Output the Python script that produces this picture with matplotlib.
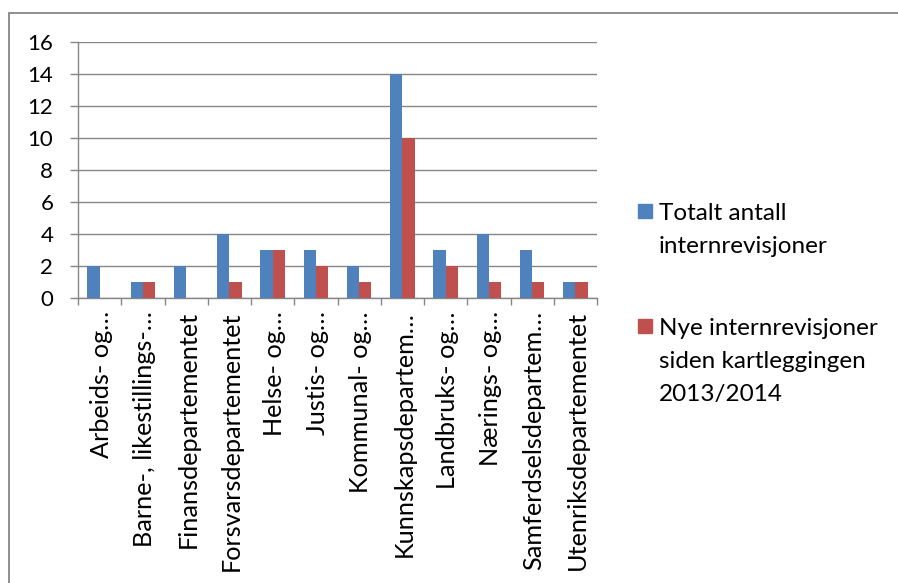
import matplotlib
matplotlib.use("Agg")
import matplotlib.pyplot as plt
from matplotlib.patches import Rectangle
import numpy as np

categories = ["Arbeids- og…", "Barne-, likestillings-…", "Finansdepartementet",
              "Forsvarsdepartementet", "Helse- og…", "Justis- og…", "Kommunal- og…",
              "Kunnskapsdepartem…", "Landbruks- og…", "Nærings- og…",
              "Samferdselsdepartem…", "Utenriksdepartementet"]
totalt = [2, 1, 2, 4, 3, 3, 2, 14, 3, 4, 3, 1]
nye = [0, 1, 0, 1, 3, 2, 1, 10, 2, 1, 1, 1]
series_names = ["Totalt antall\ninternrevisjoner",
                "Nye internrevisjoner\nsiden kartleggingen\n2013/2014"]
series_colors = ['#4F81BD', '#C0504D']
yticks = [0, 2, 4, 6, 8, 10, 12, 14, 16]

plt.rcParams['font.family'] = ['Lato', 'DejaVu Sans']
W, H = 898, 583
fig = plt.figure(figsize=(W/100, H/100), dpi=100)

# outer chart border (only left and top edges visible)
fig.patches.append(Rectangle((8.5/W, -0.5), 2, 1 - 12.5/H + 0.5, transform=fig.transFigure,
                             fill=False, edgecolor='#868686', linewidth=1.3))

ax = fig.add_axes([78/W, 1 - 298/H, (597-78)/W, (298-42)/H])
x = np.arange(len(categories))
w = 1/3.5
gridc = '#868686'
ax.bar(x - w/2, totalt, width=w, color=series_colors[0], zorder=3)
ax.bar(x + w/2, nye, width=w, color=series_colors[1], zorder=3)

ax.set_xlim(-0.5, len(categories) - 0.5)
ax.set_ylim(0, 16)
ax.set_yticks(yticks)
ax.set_yticklabels([str(v) for v in yticks], fontsize=16)
ax.yaxis.grid(True, color=gridc, linewidth=1.0, zorder=0)
ax.set_axisbelow(True)
for s in ['top', 'right']:
    ax.spines[s].set_visible(False)
for s in ['left', 'bottom']:
    ax.spines[s].set_color(gridc)
    ax.spines[s].set_linewidth(1.0)

ax.set_xticks(np.arange(-0.5, len(categories), 1.0))
ax.set_xticklabels([])
ax.set_xticks(x + 0.04, minor=True)
ax.set_xticklabels(categories, minor=True, rotation=90, fontsize=18.2)
ax.tick_params(axis='x', which='major', length=5, color=gridc, width=1)
ax.tick_params(axis='x', which='minor', length=0, pad=9.5)
ax.tick_params(axis='y', length=5.8, color=gridc, width=1, pad=12)

# legend drawn manually (square aligned with first text line, as in the reference)
first_baselines = [220, 335]
line_step = 33
for name, col, base in zip(series_names, series_colors, first_baselines):
    fig.patches.append(Rectangle((638/W, 1 - (base - 2)/H), 14/W, 14/H,
                                 transform=fig.transFigure, color=col))
    for i, line in enumerate(name.split("\n")):
        fig.text(659/W, 1 - (base + i*line_step)/H, line, fontsize=17.5,
                 ha='left', va='baseline')

fig.savefig("out.png", dpi=100)
